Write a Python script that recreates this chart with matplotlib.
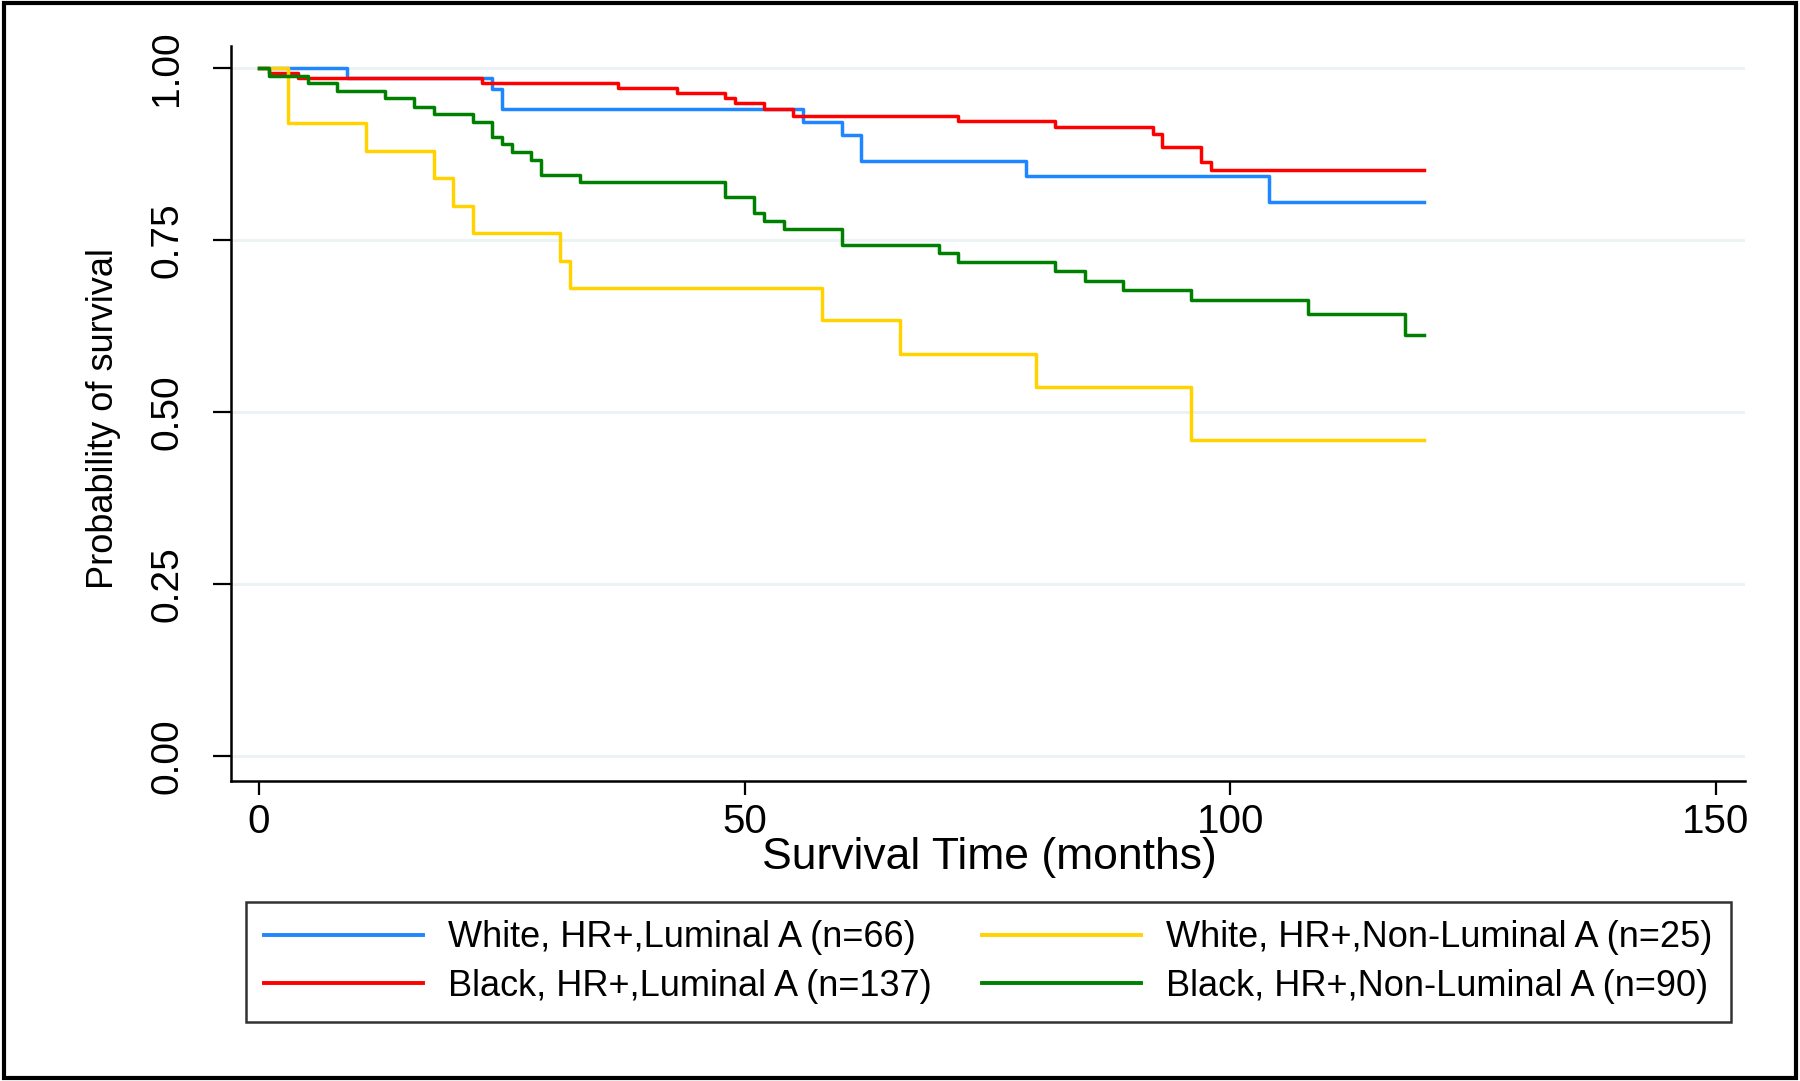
import matplotlib
matplotlib.use('Agg')
import matplotlib.pyplot as plt
from matplotlib.patches import Rectangle

plt.rcParams['font.family'] = ['Liberation Sans', 'DejaVu Sans']

# Kaplan-Meier step data (months, survival probability)
white_lum_t = [0, 9, 24, 25, 56, 60, 62, 79, 104, 120]
white_lum_s = [1.0, 0.985, 0.970, 0.940, 0.922, 0.903, 0.865, 0.843, 0.805, 0.805]

black_lum_t = [0, 1, 4, 23, 37, 43, 48, 49, 52, 55, 72, 82, 92, 93, 97, 98, 120]
black_lum_s = [1.0, 0.993, 0.985, 0.978, 0.971, 0.964, 0.956, 0.949, 0.941, 0.931,
               0.923, 0.914, 0.904, 0.886, 0.863, 0.852, 0.852]

white_non_t = [0, 3, 11, 18, 20, 22, 31, 32, 58, 66, 80, 96, 120]
white_non_s = [1.0, 0.92, 0.88, 0.84, 0.80, 0.76, 0.72, 0.68, 0.634, 0.585, 0.536, 0.459, 0.459]

black_non_t = [0, 1, 5, 8, 13, 16, 18, 22, 24, 25, 26, 28, 29, 33, 48, 51, 52, 54,
               60, 70, 72, 82, 85, 89, 96, 108, 118, 120]
black_non_s = [1.0, 0.989, 0.978, 0.967, 0.956, 0.944, 0.933, 0.922, 0.900, 0.889,
               0.878, 0.867, 0.845, 0.834, 0.812, 0.789, 0.778, 0.766, 0.743, 0.731,
               0.718, 0.705, 0.691, 0.677, 0.663, 0.642, 0.612, 0.612]

labels = ['White, HR+,Luminal A (n=66)', 'Black, HR+,Luminal A (n=137)',
          'White, HR+,Non-Luminal A (n=25)', 'Black, HR+,Non-Luminal A (n=90)']
colors = ['#1E86FF', '#FF0000', '#FFD200', '#008000']

yticks = [0.0, 0.25, 0.5, 0.75, 1.0]
xticks = [0, 50, 100, 150]

fig = plt.figure(figsize=(18, 10.81), dpi=100)
ax = fig.add_axes([0.1283, 0.2775, 0.9694 - 0.1283, 0.9574 - 0.2775])

for y in yticks:
    ax.axhline(y, color='#EAF2F3', linewidth=2.0, zorder=0)

series = [(white_lum_t, white_lum_s), (black_lum_t, black_lum_s),
          (white_non_t, white_non_s), (black_non_t, black_non_s)]
handles = []
for (t, s), c, lab in zip(series, colors, labels):
    h, = ax.step(t, s, where='post', color=c, linewidth=2.5, label=lab)
    handles.append(h)

ax.set_xlim(-2.9, 153)
ax.set_ylim(-0.036, 1.032)
ax.set_xticks(xticks)
ax.set_yticks(yticks)
ax.set_yticklabels(['%.2f' % v for v in yticks], rotation=90, va='center', fontsize=28)
ax.tick_params(axis='y', length=13, width=1.6, pad=20)
ax.tick_params(axis='x', length=10, width=1.6, pad=6, labelsize=29)

for side in ['top', 'right']:
    ax.spines[side].set_visible(False)
for side in ['left', 'bottom']:
    ax.spines[side].set_linewidth(1.8)

ax.set_xlabel('Survival Time (months)', fontsize=32, va='center')
ax.xaxis.set_label_coords(0.501, -0.104)
ax.set_ylabel('Probability of survival', fontsize=26, va='center')
ax.yaxis.set_label_coords(-0.0845, 0.4925)

leg = fig.legend(handles=handles, ncol=2, loc='center', bbox_to_anchor=(0.549, 0.110),
                 fontsize=26, frameon=True, fancybox=False, handlelength=4.4,
                 handletextpad=0.7, columnspacing=1.4, borderpad=0.5, labelspacing=0.38)
leg.get_frame().set_edgecolor('black')
leg.get_frame().set_linewidth(1.8)
for line in leg.get_lines():
    line.set_linewidth(2.8)

fig.patches.append(Rectangle((0.002, 0.003), 0.996, 0.994, transform=fig.transFigure,
                             fill=False, edgecolor='black', linewidth=3))

fig.savefig('out.png', dpi=100, facecolor='white')
